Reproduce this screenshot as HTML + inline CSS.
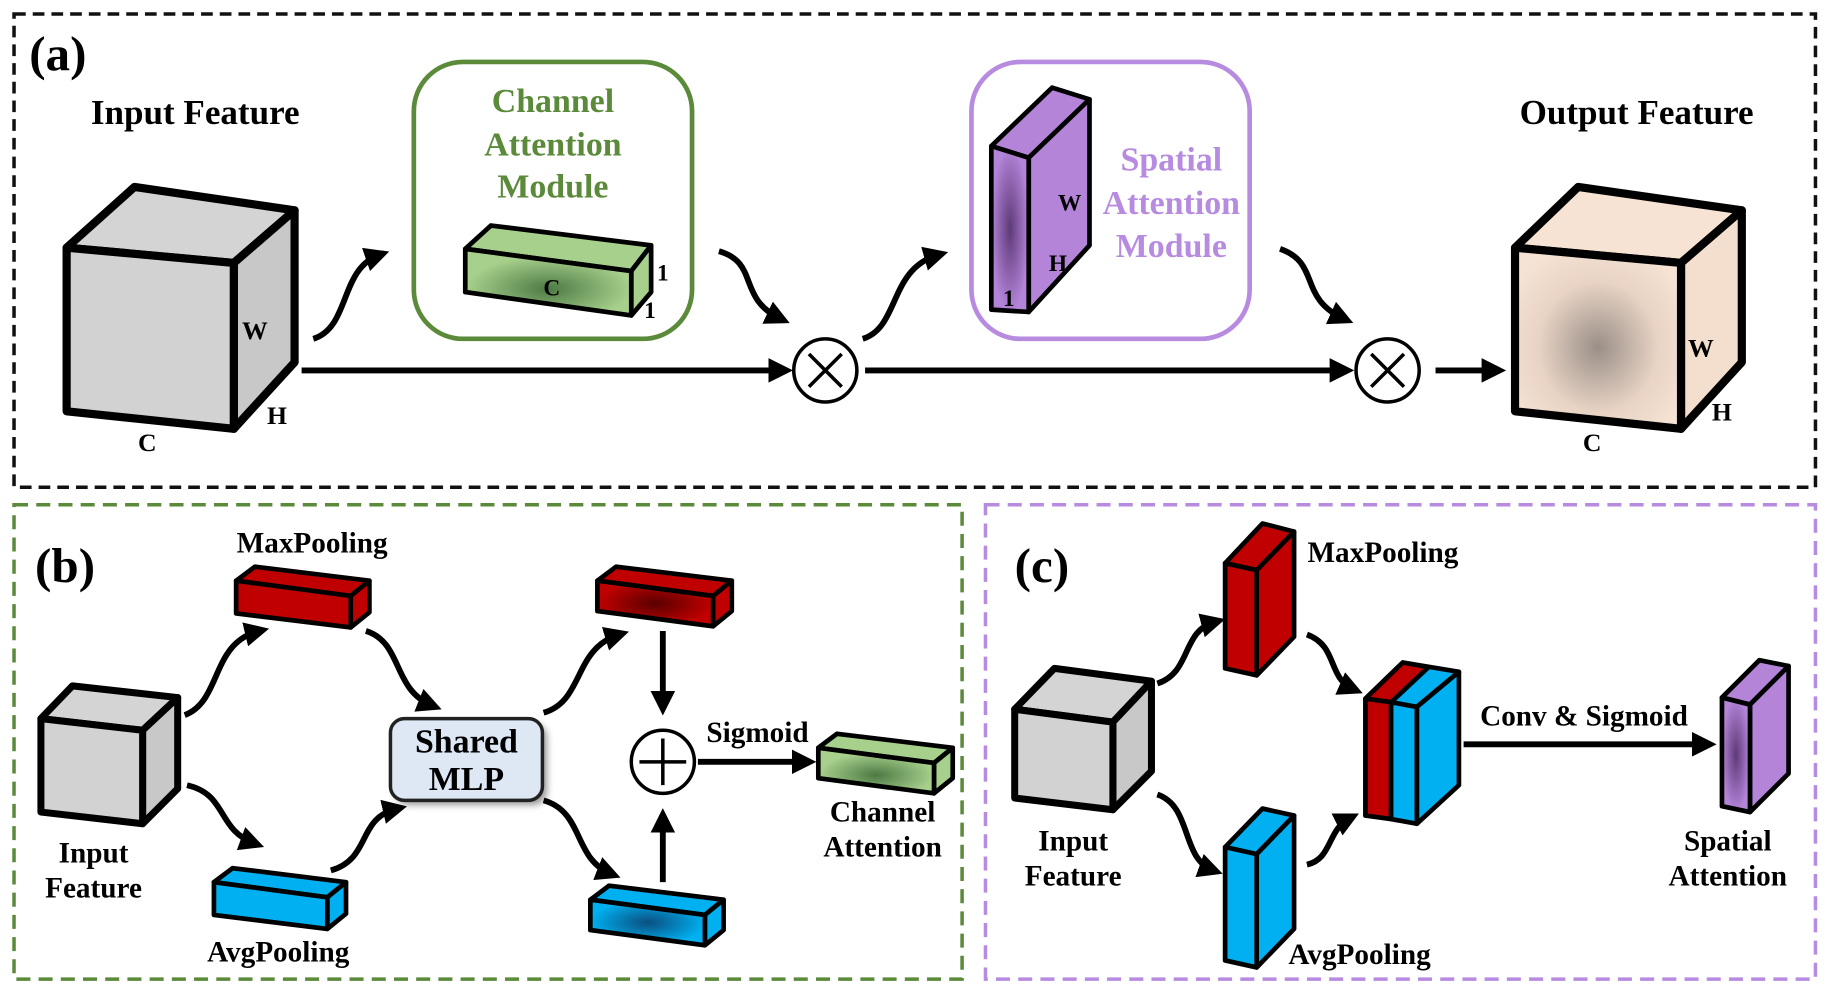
<!DOCTYPE html>
<html><head><meta charset="utf-8"><style>
html,body{margin:0;padding:0;background:#fff;}
svg{display:block;}
text{font-family:"Liberation Serif",serif;font-weight:bold;}
</style></head><body>
<svg width="1833" height="992" viewBox="0 0 1568 849" preserveAspectRatio="none" xmlns="http://www.w3.org/2000/svg">
<defs>
<marker id="ah" viewBox="0 0 10 10" refX="6" refY="5" markerWidth="4.2" markerHeight="4.2" orient="auto" markerUnits="strokeWidth"><path d="M0,0 L10,5 L0,10 z" fill="#000"/></marker>
<radialGradient id="gOut" cx="0.5" cy="0.55" r="0.6"><stop offset="0" stop-color="#9a8f88"/><stop offset="0.6" stop-color="#e8d3c4"/><stop offset="1" stop-color="#f6e3d4"/></radialGradient>
<radialGradient id="gG" cx="0.5" cy="0.6" r="0.5"><stop offset="0" stop-color="#4d7a44"/><stop offset="1" stop-color="#a8d08d"/></radialGradient>
<radialGradient id="gR" cx="0.5" cy="0.5" r="0.5"><stop offset="0" stop-color="#5a0000"/><stop offset="1" stop-color="#c00000"/></radialGradient>
<radialGradient id="gB" cx="0.5" cy="0.5" r="0.5"><stop offset="0" stop-color="#0a4f80"/><stop offset="1" stop-color="#00b0f0"/></radialGradient>
<radialGradient id="gP" cx="0.5" cy="0.5" r="0.5"><stop offset="0" stop-color="#5e3a78"/><stop offset="1" stop-color="#b384d8"/></radialGradient>
<filter id="sh"><feGaussianBlur stdDeviation="3"/></filter>
</defs>

<rect x="12" y="12" width="1541" height="405" fill="none" stroke="#111" stroke-width="3" stroke-dasharray="10,6"/>
<rect x="12" y="432" width="811" height="406" fill="none" stroke="#5a8a3a" stroke-width="3" stroke-dasharray="12,7"/>
<rect x="843" y="432" width="710" height="406" fill="none" stroke="#b78be0" stroke-width="3" stroke-dasharray="12,7"/>

<text x="25" y="60" font-size="42">(a)</text>
<text x="30" y="498" font-size="42">(b)</text>
<text x="868" y="498" font-size="42">(c)</text>

<g stroke="#000" stroke-width="7" stroke-linejoin="round">
<polygon points="57,212 115,160 252,180 200,225" fill="#d4d4d4"/>
<polygon points="200,225 252,180 252,310 200,367" fill="#c8c8c8"/>
<polygon points="57,212 200,225 200,367 57,352" fill="#d2d2d2"/>
<polygon points="1296,212 1350,160 1490,180 1438,225" fill="#f6e3d4"/>
<polygon points="1438,225 1490,180 1490,310 1438,367" fill="#f4dfcf"/>
<polygon points="1296,212 1438,225 1438,367 1296,352" fill="url(#gOut)"/>
</g>
<text x="167" y="106" font-size="30" text-anchor="middle">Input Feature</text>
<text x="1400" y="106" font-size="30" text-anchor="middle">Output Feature</text>
<g font-size="22" text-anchor="middle">
<text x="218" y="290">W</text><text x="237" y="363">H</text><text x="126" y="386">C</text>
<text x="1455" y="305">W</text><text x="1473" y="360">H</text><text x="1362" y="386">C</text>
</g>

<rect x="354" y="53" width="238" height="237" rx="42" fill="#fff" stroke="#5a8a3a" stroke-width="4"/>
<g font-size="29" fill="#5a8a3a" text-anchor="middle">
<text x="473" y="96">Channel</text><text x="473" y="133">Attention</text><text x="473" y="169">Module</text></g>
<g stroke="#000" stroke-width="4" stroke-linejoin="round">
<polygon points="398,213 420,193 557,210 540,232" fill="#a8d08d"/>
<polygon points="540,232 557,210 557,250 540,270" fill="#a8d08d"/>
<polygon points="398,213 540,232 540,270 398,250" fill="url(#gG)"/>
</g>
<g font-size="20" text-anchor="middle"><text x="472" y="253">C</text><text x="567" y="240">1</text><text x="556" y="272">1</text></g>

<rect x="831" y="53" width="238" height="237" rx="42" fill="#fff" stroke="#b78be0" stroke-width="4"/>
<g font-size="29" fill="#b78be0" text-anchor="middle">
<text x="1002" y="146">Spatial</text><text x="1002" y="183">Attention</text><text x="1002" y="220">Module</text></g>
<g stroke="#000" stroke-width="4" stroke-linejoin="round">
<polygon points="848,125 900,75 932,85 880,135" fill="#b384d8"/>
<polygon points="880,135 932,85 932,210 880,267" fill="#b384d8"/>
<polygon points="848,125 880,135 880,267 848,265" fill="url(#gP)"/>
</g>
<g font-size="20" text-anchor="middle"><text x="915" y="180">W</text><text x="905" y="232">H</text><text x="863" y="262">1</text></g>

<g stroke="#000" stroke-width="5" fill="none" marker-end="url(#ah)">
<line x1="258" y1="317" x2="670" y2="317"/>
<line x1="740" y1="317" x2="1150" y2="317"/>
<line x1="1228" y1="317" x2="1280" y2="317"/>
<path d="M268,290 C300,280 290,230 325,218"/>
<path d="M615,215 C650,225 630,255 668,273"/>
<path d="M738,290 C770,280 760,230 803,218"/>
<path d="M1095,213 C1130,225 1110,255 1150,273"/>
</g>
<g stroke="#000" stroke-width="3" fill="#fff">
<circle cx="706" cy="317" r="27"/><circle cx="1187" cy="317" r="27"/>
<path d="M692,303 L720,331 M720,303 L692,331 M1173,303 L1201,331 M1201,303 L1173,331" fill="none"/>
</g>

<g stroke="#000" stroke-width="6" stroke-linejoin="round">
<polygon points="35,615 62,587 152,597 122,625" fill="#d4d4d4"/>
<polygon points="122,625 152,597 152,675 122,705" fill="#c8c8c8"/>
<polygon points="35,615 122,625 122,705 35,695" fill="#d2d2d2"/>
</g>
<g stroke="#000" stroke-width="4" stroke-linejoin="round">
<polygon points="202,497 218,485 316,497 300,510" fill="#c00000"/>
<polygon points="300,510 316,497 316,524 300,537" fill="#c00000"/>
<polygon points="202,497 300,510 300,537 202,525" fill="#c00000"/>
<polygon points="183,755 199,743 296,755 280,768" fill="#00b0f0"/>
<polygon points="280,768 296,755 296,782 280,795" fill="#00b0f0"/>
<polygon points="183,755 280,768 280,795 183,783" fill="#00b0f0"/>
<polygon points="511,497 527,485 626,497 610,510" fill="#c00000"/>
<polygon points="610,510 626,497 626,523 610,536" fill="#c00000"/>
<polygon points="511,497 610,510 610,536 511,523" fill="url(#gR)"/>
<polygon points="505,770 521,758 619,770 603,783" fill="#00b0f0"/>
<polygon points="603,783 619,770 619,796 603,809" fill="#00b0f0"/>
<polygon points="505,770 603,783 603,809 505,796" fill="url(#gB)"/>
<polygon points="700,640 716,628 815,640 799,653" fill="#a8d08d"/>
<polygon points="799,653 815,640 815,666 799,679" fill="#a8d08d"/>
<polygon points="700,640 799,653 799,679 700,666" fill="url(#gG)"/>
</g>
<rect x="338" y="619" width="130" height="70" rx="12" fill="#999" filter="url(#sh)"/>
<rect x="334" y="615" width="130" height="70" rx="12" fill="#dde8f4" stroke="#222" stroke-width="3"/>
<g font-size="29" text-anchor="middle"><text x="399" y="644">Shared</text><text x="399" y="676">MLP</text></g>
<g font-size="25" text-anchor="middle">
<text x="267" y="473">MaxPooling</text><text x="238" y="823">AvgPooling</text>
<text x="80" y="738">Input</text><text x="80" y="768">Feature</text>
<text x="648" y="635">Sigmoid</text>
<text x="755" y="703">Channel</text><text x="755" y="733">Attention</text>
</g>
<g stroke="#000" stroke-width="5" fill="none" marker-end="url(#ah)">
<line x1="567" y1="540" x2="567" y2="604"/>
<line x1="567" y1="755" x2="567" y2="700"/>
<line x1="597" y1="652" x2="690" y2="652"/>
<path d="M158,612 C190,600 180,550 222,540"/>
<path d="M160,672 C195,680 185,710 218,722"/>
<path d="M283,745 C318,735 305,700 340,692"/>
<path d="M313,540 C345,550 335,590 370,604"/>
<path d="M465,610 C500,600 490,555 530,543"/>
<path d="M465,685 C500,695 490,735 523,748"/>
</g>
<g stroke="#000" stroke-width="3" fill="#fff">
<circle cx="567" cy="652" r="27"/>
<path d="M567,632 L567,672 M547,652 L587,652" fill="none"/>
</g>

<g stroke="#000" stroke-width="6" stroke-linejoin="round">
<polygon points="868,607 902,572 985,583 952,618" fill="#d4d4d4"/>
<polygon points="952,618 985,583 985,660 952,693" fill="#c8c8c8"/>
<polygon points="868,607 952,618 952,693 868,683" fill="#d2d2d2"/>
</g>
<g stroke="#000" stroke-width="4" stroke-linejoin="round">
<polygon points="1048,482 1080,448 1107,455 1075,488" fill="#c00000"/>
<polygon points="1075,488 1107,455 1107,545 1075,578" fill="#c00000"/>
<polygon points="1048,482 1075,488 1075,578 1048,572" fill="#c00000"/>
<polygon points="1048,725 1080,692 1107,698 1075,731" fill="#00b0f0"/>
<polygon points="1075,731 1107,698 1107,795 1075,828" fill="#00b0f0"/>
<polygon points="1048,725 1075,731 1075,828 1048,822" fill="#00b0f0"/>
<polygon points="1168,598 1200,567 1248,575 1212,605" fill="#00b0f0"/>
<polygon points="1168,598 1200,567 1222,571 1190,601" fill="#c00000"/>
<polygon points="1212,605 1248,575 1248,672 1212,705" fill="#00b0f0"/>
<polygon points="1168,598 1190,601 1190,701 1168,698" fill="#c00000"/>
<polygon points="1190,601 1212,605 1212,705 1190,701" fill="#00b0f0"/>
<polygon points="1473,597 1505,565 1530,570 1497,603" fill="#b384d8"/>
<polygon points="1497,603 1530,570 1530,662 1497,695" fill="#b384d8"/>
<polygon points="1473,597 1497,603 1497,695 1473,690" fill="url(#gP)"/>
</g>
<g font-size="25" text-anchor="middle">
<text x="1183" y="481">MaxPooling</text><text x="1163" y="825">AvgPooling</text>
<text x="918" y="728">Input</text><text x="918" y="758">Feature</text>
<text x="1355" y="621">Conv &amp; Sigmoid</text>
<text x="1478" y="728">Spatial</text><text x="1478" y="758">Attention</text>
</g>
<g stroke="#000" stroke-width="5" fill="none" marker-end="url(#ah)">
<line x1="1252" y1="637" x2="1460" y2="637"/>
<path d="M990,585 C1020,575 1010,540 1040,532"/>
<path d="M1118,543 C1145,553 1135,580 1158,590"/>
<path d="M990,680 C1020,690 1010,735 1038,745"/>
<path d="M1118,740 C1140,735 1135,710 1155,700"/>
</g>
</svg>
</body></html>
